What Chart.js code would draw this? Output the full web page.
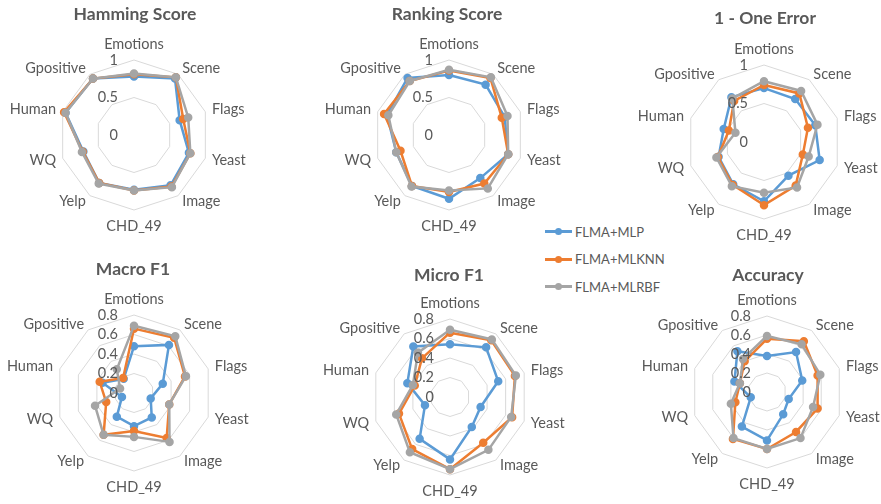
<!DOCTYPE html>
<html>
<head>
<meta charset="utf-8">
<script src="https://cdn.jsdelivr.net/npm/chart.js@4.4.1/dist/chart.umd.min.js"></script>
<style>
  html, body { margin: 0; padding: 0; background: #fff; }
  body { width: 881px; height: 504px; position: relative; overflow: hidden; font-family: Lato, sans-serif; }
  .box { position: absolute; }
  #legend { position: absolute; left: 545px; top: 218px; color: #595959; font-size: 13px; }
  .item { display: flex; align-items: center; height: 27.5px; }
  .mark { position: relative; width: 27px; height: 3px; margin-right: 3px; }
  .mark span { position: absolute; left: 10px; top: -2px; width: 7px; height: 7px; border-radius: 50%; }
</style>
</head>
<body>
<div id="legend"></div>
<script>
const categories = ['Emotions', 'Scene', 'Flags', 'Yeast', 'Image', 'CHD_49', 'Yelp', 'WQ', 'Human', 'Gpositive'];
const seriesNames = ['FLMA+MLP', 'FLMA+MLKNN', 'FLMA+MLRBF'];
const seriesColors = ['#5B9BD5', '#ED7D31', '#A5A5A5'];

const ticksUnit = [0, 0.5, 1];
const ticksF1 = [0, 0.2, 0.4, 0.6, 0.8];

const hammingMLP = [0.78, 0.93, 0.64, 0.77, 0.83, 0.73, 0.79, 0.71, 0.96, 0.93];
const hammingMLKNN = [0.81, 0.95, 0.69, 0.79, 0.85, 0.74, 0.79, 0.72, 0.98, 0.93];
const hammingMLRBF = [0.82, 0.95, 0.76, 0.79, 0.86, 0.74, 0.80, 0.73, 0.96, 0.93];

const rankingMLP = [0.80, 0.83, 0.78, 0.83, 0.71, 0.85, 0.84, 0.74, 0.87, 0.94];
const rankingMLKNN = [0.86, 0.94, 0.74, 0.83, 0.80, 0.76, 0.84, 0.68, 0.91, 0.89];
const rankingMLRBF = [0.87, 0.95, 0.82, 0.83, 0.88, 0.74, 0.85, 0.74, 0.85, 0.89];

const oneErrorMLP = [0.70, 0.69, 0.70, 0.76, 0.54, 0.77, 0.68, 0.62, 0.55, 0.72];
const oneErrorMLKNN = [0.74, 0.78, 0.60, 0.53, 0.70, 0.82, 0.69, 0.63, 0.48, 0.66];
const oneErrorMLRBF = [0.79, 0.82, 0.73, 0.61, 0.73, 0.66, 0.71, 0.65, 0.39, 0.70];

const macroMLP = [0.48, 0.61, 0.31, 0.18, 0.31, 0.34, 0.30, 0.13, 0.34, 0.18];
const macroMLKNN = [0.66, 0.70, 0.55, 0.38, 0.57, 0.39, 0.53, 0.30, 0.37, 0.19];
const macroMLRBF = [0.69, 0.72, 0.56, 0.38, 0.62, 0.45, 0.53, 0.42, 0.15, 0.30];

const microMLP = [0.54, 0.63, 0.52, 0.33, 0.38, 0.64, 0.53, 0.27, 0.46, 0.64];
const microMLKNN = [0.66, 0.72, 0.70, 0.67, 0.58, 0.74, 0.66, 0.55, 0.38, 0.49];
const microMLRBF = [0.69, 0.73, 0.71, 0.66, 0.67, 0.74, 0.70, 0.58, 0.40, 0.56];

const accuracyMLP = [0.38, 0.52, 0.39, 0.24, 0.29, 0.51, 0.45, 0.18, 0.36, 0.53];
const accuracyMLKNN = [0.56, 0.66, 0.56, 0.56, 0.52, 0.60, 0.61, 0.35, 0.30, 0.40];
const accuracyMLRBF = [0.59, 0.62, 0.59, 0.51, 0.60, 0.60, 0.60, 0.40, 0.30, 0.43];

const TEXT = '#595959';
const FONT = 'Lato, "Open Sans", sans-serif';

// Excel-like labels: category names hug the vertices, scale values sit left of the axis
const excelLabels = {
  id: 'excelLabels',
  afterDatasetsDraw(chart, args, opts) {
    const scale = chart.scales.r;
    const ctx = chart.ctx;
    const R = scale.drawingArea;
    ctx.save();
    ctx.fillStyle = TEXT;
    ctx.textBaseline = 'middle';

    ctx.font = `14.5px ${FONT}`;
    ctx.textAlign = 'right';
    opts.ticks.forEach((v) => {
      const y = scale.yCenter - scale.getDistanceFromCenterForValue(v);
      ctx.fillText(String(v), scale.xCenter - 16, y);
    });

    categories.forEach((name, i) => {
      const deg = (i * 360) / categories.length;
      const vertical = deg === 0 || deg === 180;
      const p = scale.getPointPosition(i, R + (vertical ? 16 : 7));
      ctx.textAlign = vertical ? 'center' : deg < 180 ? 'left' : 'right';
      ctx.fillText(name, p.x, p.y);
    });

    ctx.font = `bold 17.5px ${FONT}`;
    ctx.textAlign = 'center';
    ctx.fillText(opts.title, scale.xCenter + opts.titleDx, opts.titleY);
    ctx.restore();
  },
};

function renderRadar(box, center, title, series, tickValues) {
  const holder = document.createElement('div');
  holder.className = 'box';
  Object.assign(holder.style, {
    left: box.x + 'px', top: box.y + 'px', width: box.w + 'px', height: box.h + 'px',
  });
  const canvas = document.createElement('canvas');
  holder.appendChild(canvas);
  document.body.appendChild(holder);

  const { cx, cy, r } = center;
  const padding = {
    left: cx - r - box.x,
    right: box.x + box.w - (cx + r),
    top: cy - r - box.y,
    bottom: box.y + box.h - (cy + r),
  };
  const max = tickValues[tickValues.length - 1];

  const datasets = series.map((data, index) => ({
    label: seriesNames[index],
    data,
    borderColor: seriesColors[index],
    backgroundColor: seriesColors[index],
    pointBackgroundColor: seriesColors[index],
    pointBorderColor: seriesColors[index],
    borderWidth: 2.5,
    pointRadius: 3,
    fill: false,
    order: series.length - index,
  }));

  new Chart(canvas.getContext('2d'), {
    type: 'radar',
    data: { labels: categories, datasets },
    plugins: [excelLabels],
    options: {
      responsive: true,
      maintainAspectRatio: false,
      animation: false,
      layout: { padding },
      scales: {
        r: {
          min: 0,
          max,
          ticks: { display: false, stepSize: tickValues[1] - tickValues[0] },
          grid: { color: '#d9d9d9', lineWidth: 1 },
          angleLines: { display: false },
          pointLabels: { display: false },
        },
      },
      plugins: {
        legend: { display: false },
        tooltip: { enabled: false },
        excelLabels: {
          ticks: tickValues,
          title,
          titleY: center.titleY - box.y,
          titleDx: center.titleDx || 0,
        },
      },
    },
  });
}

renderRadar({ x: 0, y: 0, w: 295, h: 250 }, { cx: 134, cy: 135, r: 75, titleY: 14, titleDx: 1 },
  'Hamming Score', [hammingMLP, hammingMLKNN, hammingMLRBF], ticksUnit);
renderRadar({ x: 300, y: 0, w: 295, h: 250 }, { cx: 449, cy: 135, r: 75, titleY: 14, titleDx: -2 },
  'Ranking Score', [rankingMLP, rankingMLKNN, rankingMLRBF], ticksUnit);
renderRadar({ x: 600, y: 0, w: 281, h: 250 }, { cx: 764, cy: 142, r: 77, titleY: 18, titleDx: 1 },
  '1 - One Error', [oneErrorMLP, oneErrorMLKNN, oneErrorMLRBF], ticksUnit);
renderRadar({ x: 0, y: 250, w: 295, h: 254 }, { cx: 134, cy: 393, r: 78, titleY: 269, titleDx: -1 },
  'Macro F1', [macroMLP, macroMLKNN, macroMLRBF], ticksF1);
renderRadar({ x: 300, y: 250, w: 295, h: 254 }, { cx: 450, cy: 397, r: 78, titleY: 275, titleDx: -1 },
  'Micro F1', [microMLP, microMLKNN, microMLRBF], ticksF1);
renderRadar({ x: 600, y: 250, w: 281, h: 254 }, { cx: 767, cy: 392, r: 76, titleY: 275, titleDx: 1 },
  'Accuracy', [accuracyMLP, accuracyMLKNN, accuracyMLRBF], ticksF1);

const legend = document.getElementById('legend');
seriesNames.forEach((name, index) => {
  const item = document.createElement('div');
  item.className = 'item';
  item.innerHTML = `<div class="mark" style="background:${seriesColors[index]}"><span style="background:${seriesColors[index]}"></span></div>${name}`;
  legend.appendChild(item);
});
</script>
</body>
</html>
